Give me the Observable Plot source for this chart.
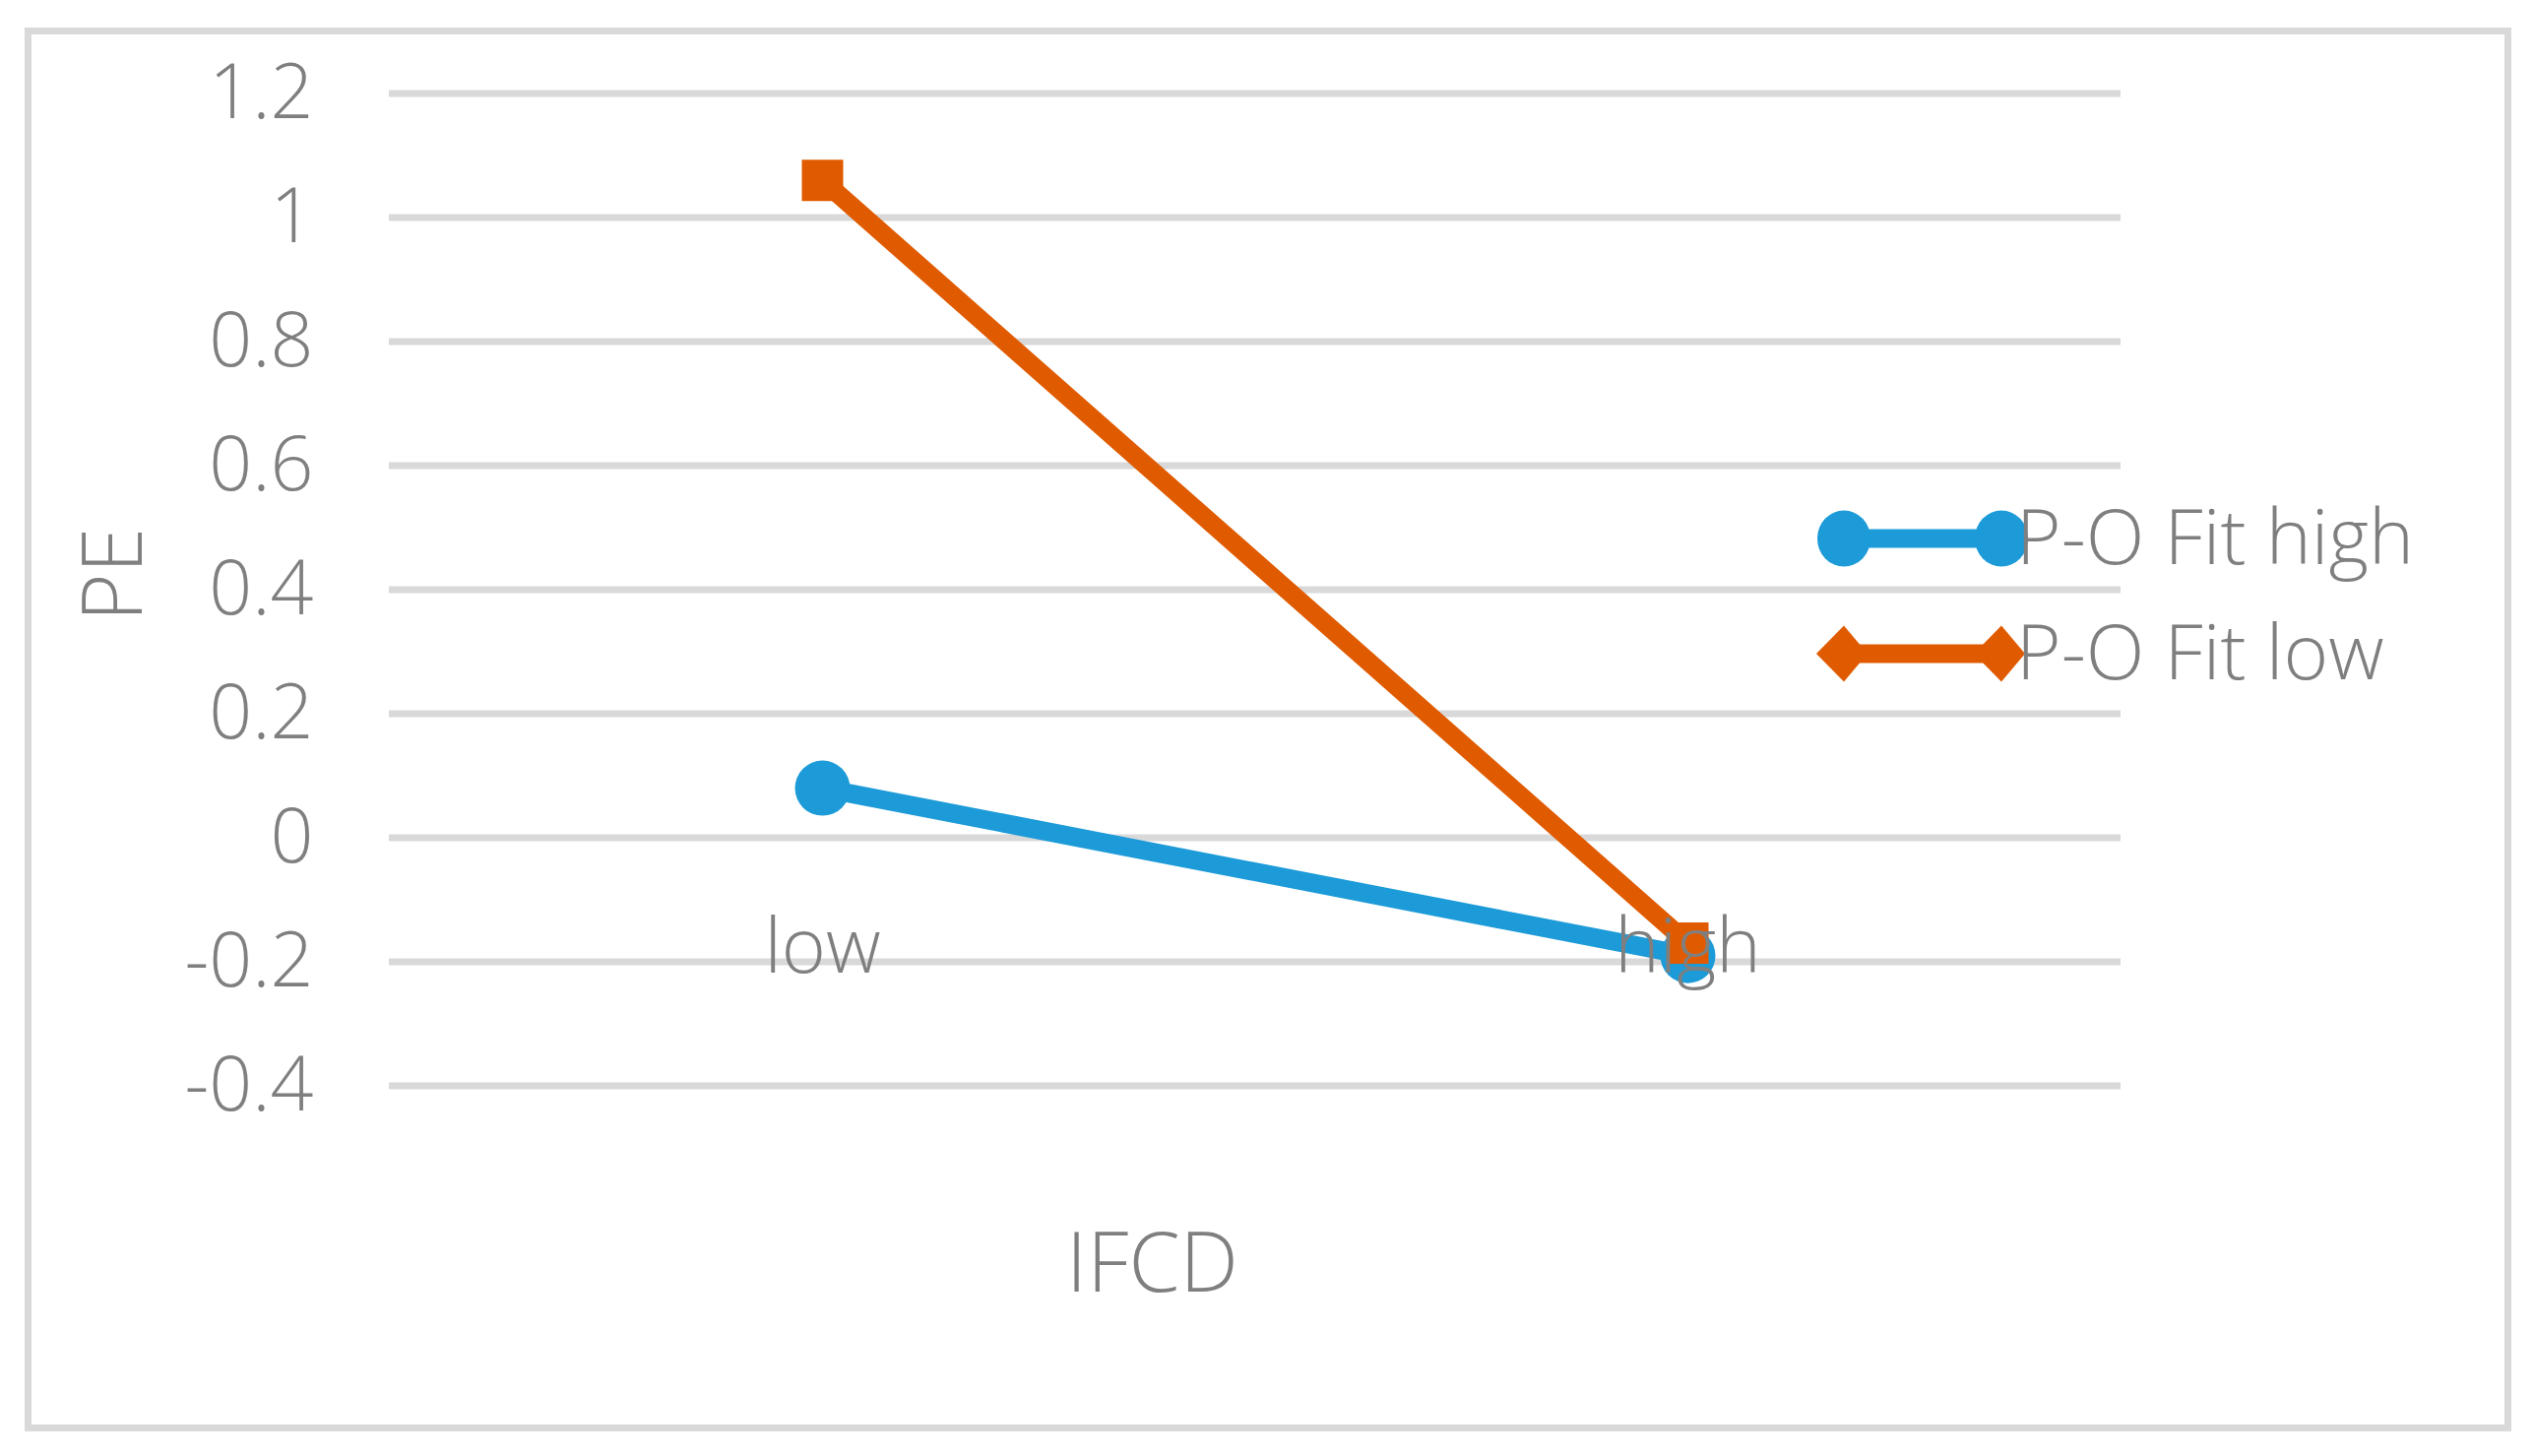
<!DOCTYPE html>
<html>
<head>
<meta charset="utf-8">
<script src="https://cdn.jsdelivr.net/npm/d3@7"></script>
<script src="https://cdn.jsdelivr.net/npm/@observablehq/plot@0.6"></script>
<style>
  html, body { margin: 0; padding: 0; background: #ffffff; }
  #wrap { position: relative; width: 2574px; height: 1479px; overflow: hidden; background: #fff; }
  #border { position: absolute; left: 25px; top: 28px; width: 2526px; height: 1426px; box-sizing: border-box; border: 7px solid #d9d9d9; pointer-events: none; }
  #legend { position: absolute; left: 0; top: 0; pointer-events: none; }
  #chart svg { display: block; }
</style>
</head>
<body>
<div id="wrap">
  <div id="chart"></div>
  <div id="border"></div>
  <div id="legend"></div>
</div>
<script>
// ---- data ----
const categories = ["low", "high"];
const seriesNames = ["P-O Fit high", "P-O Fit low"];
const fitHighValues = [0.08, -0.19];
const fitLowValues = [1.06, -0.17];
const seriesColors = ["#1c9bd8", "#e05b00"];
const yTicks = [-0.4, -0.2, 0, 0.2, 0.4, 0.6, 0.8, 1, 1.2];
const xTitle = "IFCD";
const yTitle = "PE";

const W = 2574, H = 1479;
const textColor = "#7f7f7f";
const font = "'Open Sans', 'Noto Sans', sans-serif";
const weight = 350;

const highRows = categories.map((c, i) => ({cat: c, value: fitHighValues[i], series: seriesNames[0]}));
const lowRows = categories.map((c, i) => ({cat: c, value: fitLowValues[i], series: seriesNames[1]}));

const chart = Plot.plot({
  width: W,
  height: H,
  marginLeft: 395,
  marginRight: 420,
  marginTop: 94.5,
  marginBottom: 376.5,
  style: {fontFamily: font, fontWeight: weight, background: "transparent", color: textColor},
  x: {type: "point", domain: categories, padding: 0.5, axis: null},
  y: {domain: [-0.4, 1.2], axis: null},
  color: {domain: seriesNames, range: seriesColors},
  marks: [
    Plot.gridY(yTicks, {stroke: "#d9d9d9", strokeOpacity: 1, strokeWidth: 7}),
    Plot.axisY(yTicks, {
      tickSize: 0, tickPadding: 77, fontSize: 77, fill: textColor, label: null,
      tickFormat: d => String(Math.round(d * 10) / 10)
    }),
    Plot.line(highRows, {x: "cat", y: "value", stroke: "series", strokeWidth: 19}),
    Plot.dot(highRows, {x: "cat", y: "value", fill: "series", r: 28, symbol: "circle"}),
    Plot.line(lowRows, {x: "cat", y: "value", stroke: "series", strokeWidth: 19}),
    Plot.dot(lowRows, {x: "cat", y: "value", fill: "series", r: 23.7, symbol: "square"}),
    Plot.text(categories, {
      x: d => d, y: () => 0, text: d => d, dy: 136.5, lineAnchor: "bottom",
      fontSize: 77, fill: textColor
    }),
    Plot.text([xTitle], {
      frameAnchor: "bottom", text: d => d, dx: -104.5, dy: 208.5, lineAnchor: "bottom",
      fontSize: 84, fill: textColor
    }),
    Plot.text([yTitle], {
      frameAnchor: "left", text: d => d, rotate: -90, dx: -278, dy: 32.5,
      fontSize: 84, fill: textColor
    })
  ]
});
document.getElementById("chart").appendChild(chart);

// ---- legend ----
const lsvg = d3.select("#legend").append("svg")
  .attr("width", W).attr("height", H)
  .style("font-family", font)
  .style("font-weight", weight);
const legX0 = 1873, legX1 = 2033, legY0 = 547, legStep = 117;
seriesNames.forEach((name, i) => {
  const cy = legY0 + i * legStep;
  const g = lsvg.append("g");
  g.append("line")
    .attr("x1", legX0).attr("x2", legX1).attr("y1", cy).attr("y2", cy)
    .attr("stroke", seriesColors[i]).attr("stroke-width", 19);
  [legX0, legX1].forEach(cx => {
    if (i === 0) {
      g.append("ellipse").attr("cx", cx).attr("cy", cy).attr("rx", 27).attr("ry", 28.5)
        .attr("fill", seriesColors[i]);
    } else {
      g.append("path")
        .attr("d", `M${cx - 28},${cy} L${cx},${cy - 28.5} L${cx + 24},${cy} L${cx},${cy + 28.5} Z`)
        .attr("fill", seriesColors[i]);
    }
  });
  g.append("text")
    .attr("x", 2048).attr("y", cy + 26)
    .attr("font-size", 78).attr("fill", textColor)
    .text(name);
});
</script>
</body>
</html>
